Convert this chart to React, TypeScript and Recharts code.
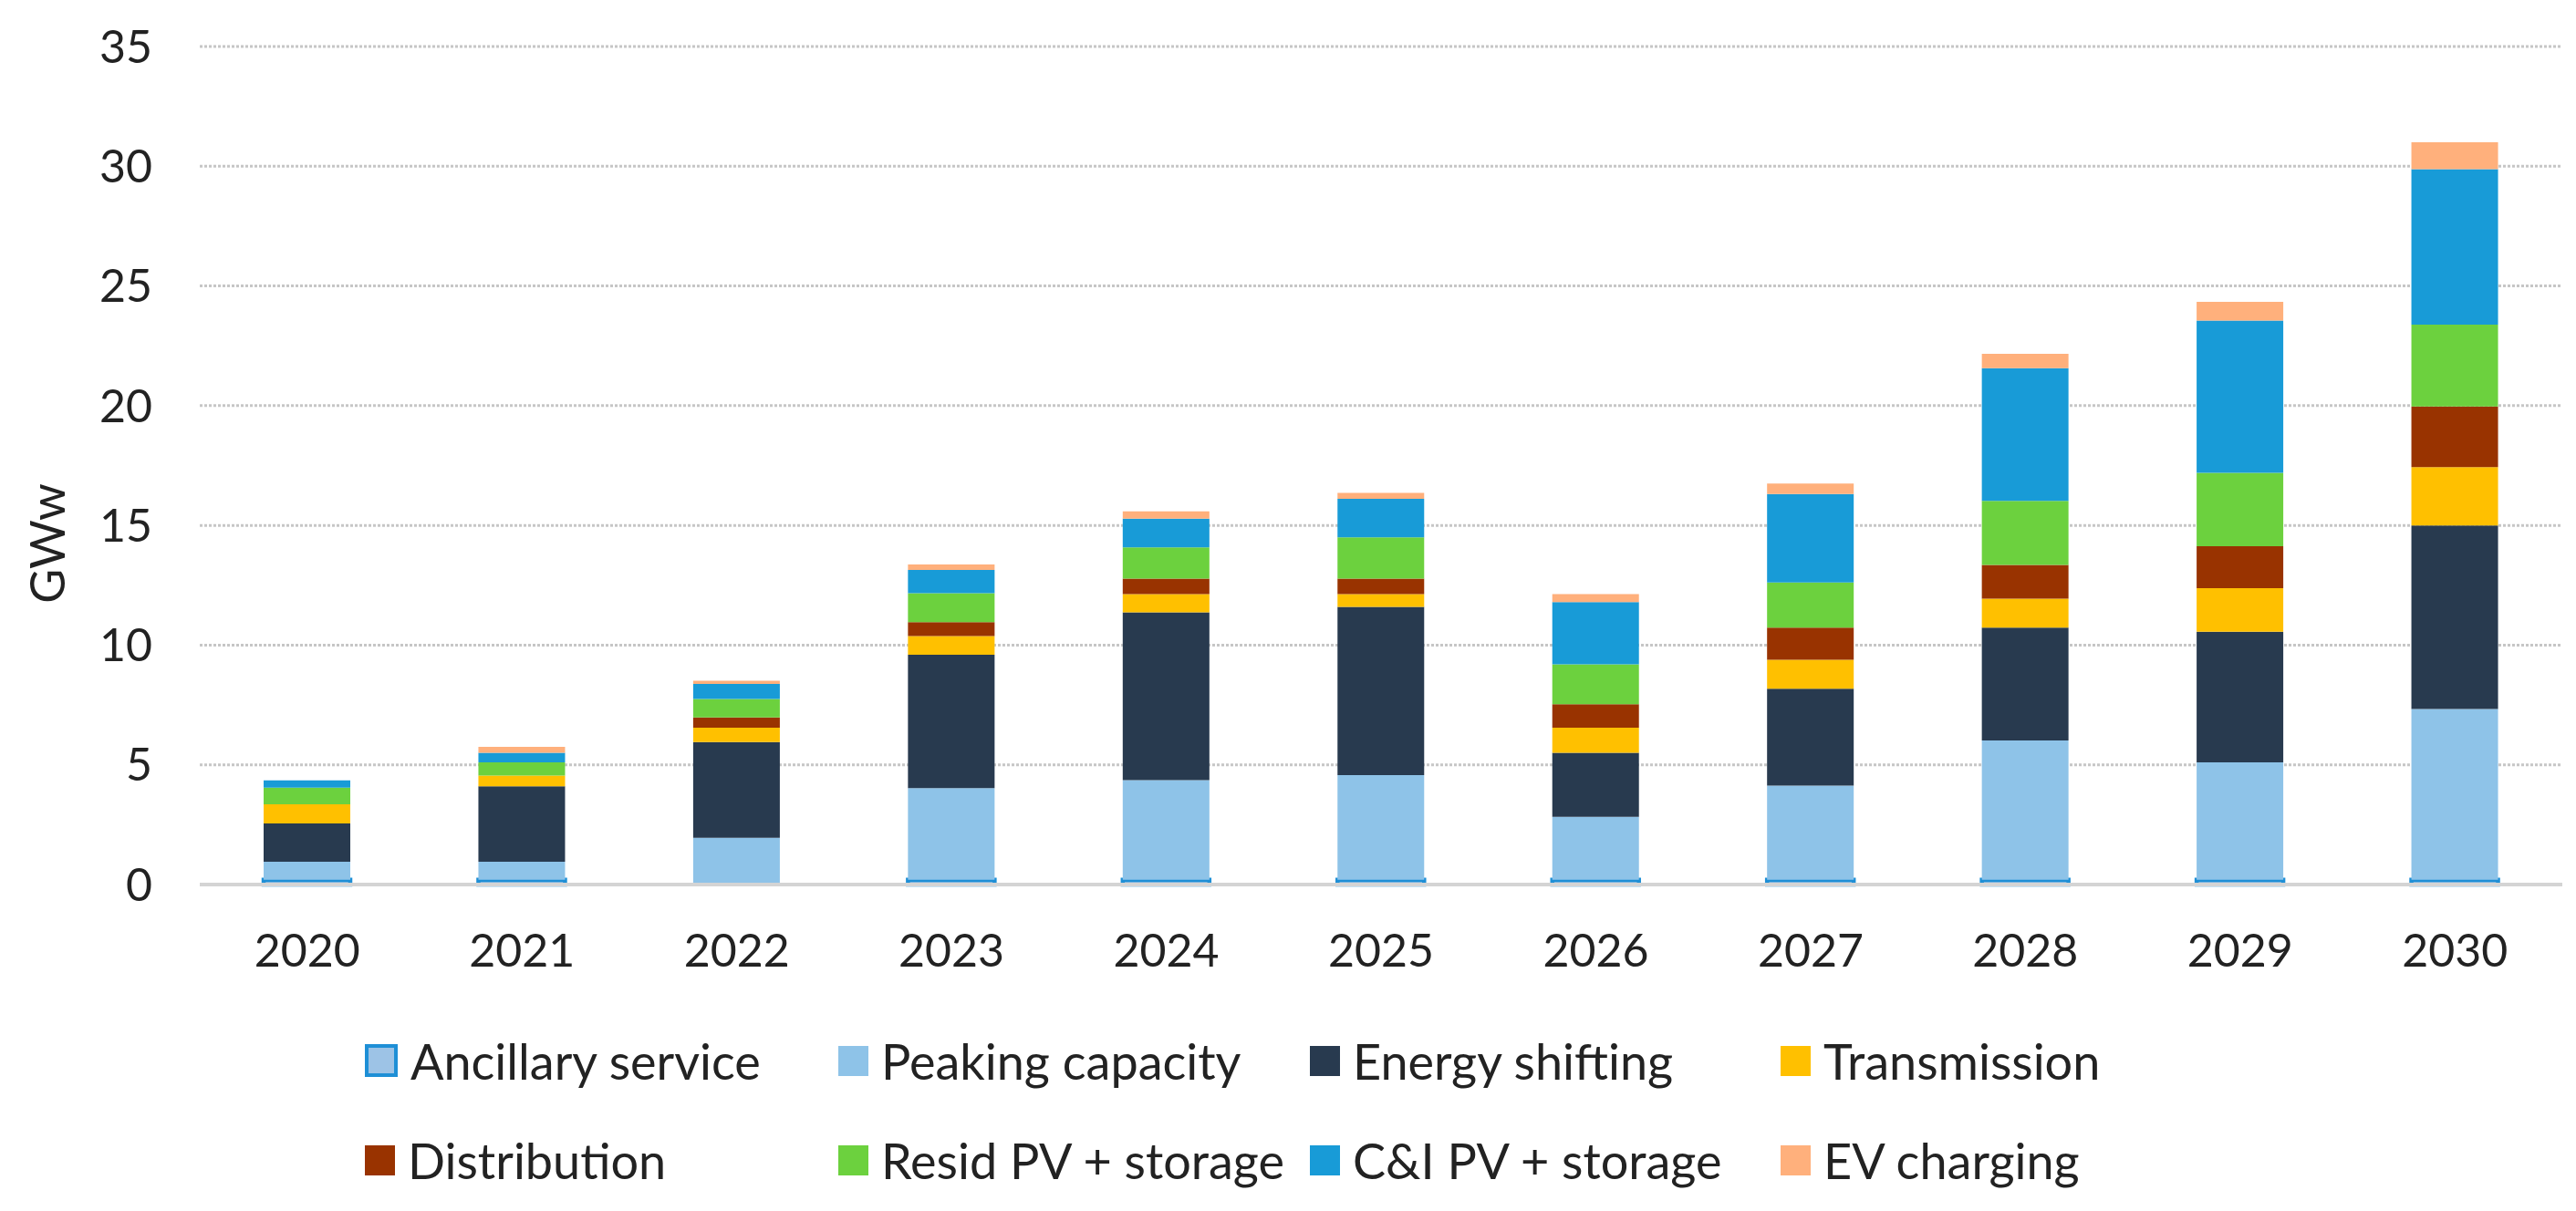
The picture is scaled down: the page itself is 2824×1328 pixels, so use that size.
import React from "react";
import { BarChart, Bar, XAxis, YAxis, CartesianGrid, Label } from "recharts";

const years = ["2020", "2021", "2022", "2023", "2024", "2025", "2026", "2027", "2028", "2029", "2030"];

// GWw per segment
const ancillary = [0.2, 0.2, 0, 0.2, 0.2, 0.2, 0.2, 0.2, 0.2, 0.2, 0.2];
const peaking = [0.75, 0.75, 1.95, 3.83, 4.16, 4.37, 2.63, 3.93, 5.82, 4.9, 7.13];
const energyShifting = [1.6, 3.15, 4.0, 5.57, 7.01, 7.03, 2.67, 4.05, 4.71, 5.46, 7.67];
const transmission = [0.8, 0.45, 0.6, 0.78, 0.76, 0.53, 1.05, 1.21, 1.21, 1.82, 2.43];
const distribution = [0, 0, 0.43, 0.58, 0.65, 0.65, 0.98, 1.34, 1.41, 1.75, 2.54];
const residPv = [0.7, 0.55, 0.77, 1.21, 1.3, 1.72, 1.67, 1.89, 2.67, 3.07, 3.41];
const ciPv = [0.3, 0.4, 0.63, 0.97, 1.2, 1.61, 2.6, 3.69, 5.55, 6.36, 6.5];
const evCharging = [0, 0.25, 0.13, 0.23, 0.31, 0.25, 0.33, 0.44, 0.6, 0.78, 1.12];

const yTicks = [0, 5, 10, 15, 20, 25, 30, 35];

const series = [
  { key: "Ancillary service", values: ancillary, color: "#9DC3E6", stroke: "#1E8FD6" },
  { key: "Peaking capacity", values: peaking, color: "#8EC3E8" },
  { key: "Energy shifting", values: energyShifting, color: "#283A4F" },
  { key: "Transmission", values: transmission, color: "#FFC000" },
  { key: "Distribution", values: distribution, color: "#993300" },
  { key: "Resid PV + storage", values: residPv, color: "#6CD13E" },
  { key: "C&I PV + storage", values: ciPv, color: "#189BD7" },
  { key: "EV charging", values: evCharging, color: "#FFB07C" },
];

const data = years.map((year, i) => {
  const row: Record<string, string | number> = { year };
  series.forEach((s) => {
    row[s.key] = s.values[i];
  });
  return row;
});

const FONT = "Lato, 'Open Sans', sans-serif";

// legend order: row 1 then row 2
const legendColumns = [400, 919, 1436, 1952];

function LegendBlock() {
  return (
    <div style={{ position: "absolute", left: 0, top: 1133, width: 2824, fontFamily: FONT }}>
      {series.map((s, i) => {
        const col = i % 4;
        const row = Math.floor(i / 4);
        return (
          <div
            key={s.key}
            style={{
              position: "absolute",
              left: legendColumns[col],
              top: row * 109,
              height: 60,
              display: "flex",
              alignItems: "center",
              whiteSpace: "nowrap",
            }}
          >
            <span
              style={{
                display: "inline-block",
                width: s.stroke ? 28 : 33,
                height: s.stroke ? 28 : 33,
                background: s.color,
                border: s.stroke ? `4px solid ${s.stroke}` : "none",
                marginRight: 14,
              }}
            />
            <span style={{ fontSize: 54, color: "#222" }}>{s.key}</span>
          </div>
        );
      })}
    </div>
  );
}

export default function App() {
  return (
    <div style={{ position: "relative", width: 2824, height: 1328, background: "#fff" }}>
      <style>{"body{margin:0}"}</style>
      <BarChart
        width={2824}
        height={1328}
        data={data}
        margin={{ top: 51, right: 15, left: 0, bottom: 248 }}
        barSize={95}
      >
        <CartesianGrid vertical={false} stroke="#C6C6C6" strokeWidth={3} strokeDasharray="3 2" />
        <XAxis
          dataKey="year"
          height={110}
          axisLine={{ stroke: "#D4D4D4", strokeWidth: 4 }}
          tickLine={false}
          tickSize={0}
          tickMargin={54}
          tick={{ fontSize: 50, fill: "#222", fontFamily: FONT }}
        />
        <YAxis
          width={219}
          domain={[0, 35]}
          ticks={yTicks}
          axisLine={false}
          tickLine={false}
          tickSize={0}
          tickMargin={52}
          tick={{ fontSize: 50, fill: "#222", fontFamily: FONT }}
        >
          <Label
            content={() => (
              <text
                x={51}
                y={596}
                transform="rotate(-90, 51, 596)"
                textAnchor="middle"
                dominantBaseline="central"
                fontSize={52}
                fill="#222"
                fontFamily={FONT}
              >
                GWw
              </text>
            )}
          />
        </YAxis>
        {series.map((s) => (
          <Bar
            key={s.key}
            dataKey={s.key}
            stackId="a"
            fill={s.color}
            stroke={s.stroke}
            strokeWidth={s.stroke ? 4.5 : 0}
            isAnimationActive={false}
          />
        ))}
      </BarChart>
      <LegendBlock />
    </div>
  );
}
